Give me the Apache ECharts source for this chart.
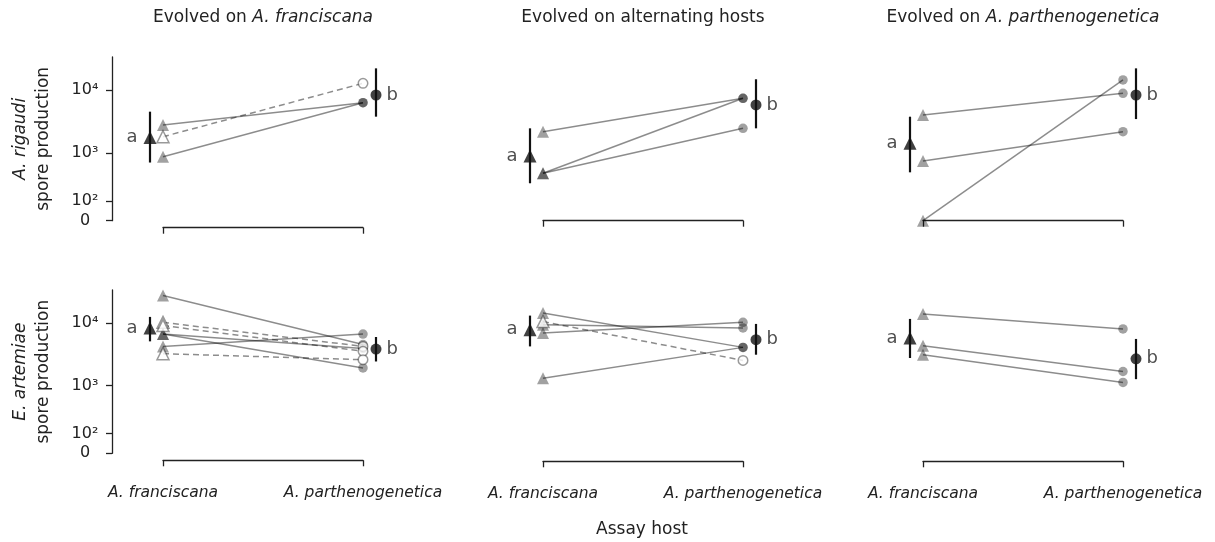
<!DOCTYPE html>
<html>
<head>
<meta charset="utf-8">
<script src="https://cdn.jsdelivr.net/npm/echarts@6/dist/echarts.min.js"></script>
<style>
  html, body { margin: 0; padding: 0; background: #fff; }
  #chart { width: 1215px; height: 542px; }
</style>
</head>
<body>
<div id="chart"></div>
<script>
// --- data ---
const hosts = ["A. franciscana", "A. parthenogenetica"];
const parasites = ["A. rigaudi", "E. artemiae"];
const titlePlain = ["Evolved on ", "Evolved on alternating hosts", "Evolved on "];
const titleItalic = ["A. franciscana", "", "A. parthenogenetica"];
const yTickValues = [0, 100, 1000, 10000];
const yTickLabels = ["0", "10\u00B2", "10\u00B3", "10\u2074"];
const yTop = 32300;
const meanLetters = ["a", "b"];

// A. rigaudi, evolved on A. franciscana
const rigFranFr = [2840, 860, 1840];
const rigFranPa = [6350, 6350, 12700];
const rigFranOpen = [false, false, true];
const rigFranMean = [1780, 8370];
const rigFranLow = [680, 3840];
const rigFranHigh = [4600, 21600];

// A. rigaudi, evolved on alternating hosts
const rigAltFr = [2220, 433, 433];
const rigAltPa = [7430, 7430, 2510];
const rigAltOpen = [false, false, false];
const rigAltMean = [880, 5860];
const rigAltLow = [275, 2510];
const rigAltHigh = [2510, 14660];

// A. rigaudi, evolved on A. parthenogenetica
const rigPartFr = [4080, 724, 0];
const rigPartPa = [8900, 2220, 14290];
const rigPartOpen = [false, false, false];
const rigPartMean = [1440, 8370];
const rigPartLow = [452, 3520];
const rigPartHigh = [3836, 21600];

// E. artemiae, evolved on A. franciscana
const artFranFr = [26500, 6700, 6700, 4300, 10200, 9100, 3300];
const artFranPa = [4600, 1950, 4000, 6700, 4300, 3600, 2650];
const artFranOpen = [false, false, false, false, true, true, true];
const artFranMean = [8350, 3910];
const artFranLow = [5160, 2480];
const artFranHigh = [12400, 6040];

// E. artemiae, evolved on alternating hosts
const artAltFr = [14300, 1330, 9400, 6980, 10490];
const artAltPa = [4150, 4150, 8350, 10220, 2580];
const artAltOpen = [false, false, false, false, true];
const artAltMean = [7860, 5490];
const artAltLow = [4300, 3180];
const artAltHigh = [12990, 9650];

// E. artemiae, evolved on A. parthenogenetica
const artPartFr = [13800, 4410, 3180];
const artPartPa = [8070, 1710, 1130];
const artPartOpen = [false, false, false];
const artPartMean = [5830, 2740];
const artPartLow = [2820, 1280];
const artPartHigh = [11540, 5630];

const panels = [
  { fr: rigFranFr, pa: rigFranPa, open: rigFranOpen, mean: rigFranMean, low: rigFranLow, high: rigFranHigh },
  { fr: rigAltFr, pa: rigAltPa, open: rigAltOpen, mean: rigAltMean, low: rigAltLow, high: rigAltHigh },
  { fr: rigPartFr, pa: rigPartPa, open: rigPartOpen, mean: rigPartMean, low: rigPartLow, high: rigPartHigh },
  { fr: artFranFr, pa: artFranPa, open: artFranOpen, mean: artFranMean, low: artFranLow, high: artFranHigh },
  { fr: artAltFr, pa: artAltPa, open: artAltOpen, mean: artAltMean, low: artAltLow, high: artAltHigh },
  { fr: artPartFr, pa: artPartPa, open: artPartOpen, mean: artPartMean, low: artPartLow, high: artPartHigh },
];

// --- layout ---
const FONT = "DejaVu Sans";
const TEXT = "#222";
const DOT = "rgba(0,0,0,0.46)";
const LINE = "rgba(0,0,0,0.45)";
const colLeft = [163, 543, 923];
const plotW = 200;
const rowTop = [57, 290];
const plotH = [163.7, 163.3];
const bracketOffset = [[7, 0, 0], [7, 8, 8]];
const meanShift = 0.065;

// pseudo-log scale used by the figure: log10(x + 100)
const T = (v) => Math.log10(v + 100);

const grids = [], xAxes = [], yAxes = [], series = [];

panels.forEach((pn, p) => {
  const row = Math.floor(p / 3), col = p % 3;
  grids.push({ left: colLeft[col], top: rowTop[row], width: plotW, height: plotH[row] });

  xAxes.push({
    gridIndex: p, type: "value", min: 0, max: 1, interval: 1,
    offset: bracketOffset[row][col],
    axisLine: { onZero: false, lineStyle: { color: TEXT, width: 1.3 } },
    axisTick: { length: 6, lineStyle: { color: TEXT, width: 1.3 } },
    splitLine: { show: false },
    axisLabel: row === 1 ? {
      formatter: (v) => hosts[v] || "",
      showMinLabel: true, showMaxLabel: true,
      fontFamily: FONT, fontSize: 15.5, fontStyle: "italic", color: TEXT, margin: 25,
    } : { show: false },
  });

  const tickPos = yTickValues.map(T);
  yAxes.push({
    gridIndex: p, type: "value", min: T(0), max: T(yTop),
    show: col === 0, position: "left", offset: 51,
    axisLine: { show: true, onZero: false, lineStyle: { color: TEXT, width: 1.3 } },
    axisTick: { show: true, length: 6, customValues: tickPos, lineStyle: { color: TEXT, width: 1.3 } },
    axisLabel: {
      customValues: tickPos,
      formatter: (v) => {
        const i = tickPos.findIndex((t) => Math.abs(t - v) < 1e-6);
        return i >= 0 ? yTickLabels[i] : "";
      },
      align: "center", margin: 27, fontFamily: FONT, fontSize: 16, color: TEXT,
    },
    splitLine: { show: false },
    name: "{i|" + parasites[row] + "}\n{n|spore production}",
    nameLocation: "middle", nameGap: 57, nameRotate: 90, nameMoveOverlap: false,
    nameTextStyle: {
      fontFamily: FONT, fontSize: 17, color: TEXT, lineHeight: 23,
      rich: {
        i: { fontStyle: "italic", fontFamily: FONT, fontSize: 17, color: TEXT, lineHeight: 23 },
        n: { fontFamily: FONT, fontSize: 17, color: TEXT, lineHeight: 23 },
      },
    },
  });

  // connecting lines per replicate
  pn.fr.forEach((v, i) => {
    series.push({
      type: "line", xAxisIndex: p, yAxisIndex: p, clip: false, silent: true, z: 2,
      symbol: "none",
      data: [[0, T(v)], [1, T(pn.pa[i])]],
      lineStyle: { color: LINE, width: 1.5, type: pn.open[i] ? [6, 4] : "solid" },
    });
  });

  // replicate markers
  const pts = [];
  pn.fr.forEach((v, i) => {
    const st = pn.open[i]
      ? { color: "#fff", borderColor: "rgba(0,0,0,0.5)", borderWidth: 1.5 }
      : { color: DOT, borderWidth: 0 };
    pts.push({ value: [0, T(v)], symbol: "triangle", symbolSize: 12, itemStyle: st });
    pts.push({ value: [1, T(pn.pa[i])], symbol: "circle", symbolSize: 9.5, itemStyle: st });
  });
  series.push({
    type: "scatter", xAxisIndex: p, yAxisIndex: p, clip: false, silent: true, z: 3,
    data: pts,
  });

  // error bars of the means
  series.push({
    type: "custom", xAxisIndex: p, yAxisIndex: p, clip: false, silent: true, z: 4,
    data: [
      [-meanShift, T(pn.low[0]), T(pn.high[0])],
      [1 + meanShift, T(pn.low[1]), T(pn.high[1])],
    ],
    renderItem: (params, api) => {
      const a = api.coord([api.value(0), api.value(1)]);
      const b = api.coord([api.value(0), api.value(2)]);
      return {
        type: "line",
        shape: { x1: a[0], y1: a[1], x2: b[0], y2: b[1] },
        style: { stroke: "#111", lineWidth: 2.2 },
      };
    },
  });

  // means with group letters
  series.push({
    type: "scatter", xAxisIndex: p, yAxisIndex: p, clip: false, silent: true, z: 5,
    itemStyle: { color: "#111" },
    data: [
      {
        value: [-meanShift, T(pn.mean[0])], symbol: "triangle", symbolSize: 13,
        label: { show: true, formatter: meanLetters[0], position: "left", distance: 6 },
      },
      {
        value: [1 + meanShift, T(pn.mean[1])], symbol: "circle", symbolSize: 11,
        label: { show: true, formatter: meanLetters[1], position: "right", distance: 5 },
      },
    ],
    label: { fontFamily: FONT, fontSize: 18, color: TEXT },
  });
});

const graphics = titlePlain.map((t, c) => ({
  type: "text",
  x: colLeft[c] + plotW / 2, y: 18,
  style: {
    text: "{n|" + t + "}" + (titleItalic[c] ? "{i|" + titleItalic[c] + "}" : ""),
    align: "center", verticalAlign: "middle",
    rich: {
      n: { fontFamily: FONT, fontSize: 17, fill: TEXT },
      i: { fontFamily: FONT, fontSize: 17, fontStyle: "italic", fill: TEXT },
    },
  },
}));
graphics.push({
  type: "text", x: 642, y: 530,
  style: { text: "Assay host", align: "center", verticalAlign: "middle",
           fontFamily: FONT, fontSize: 17, fill: TEXT },
});

const chart = echarts.init(document.getElementById("chart"), null, { renderer: "canvas" });
chart.setOption({
  animation: false,
  backgroundColor: "#fff",
  grid: grids,
  xAxis: xAxes,
  yAxis: yAxes,
  series: series,
  graphic: graphics,
});
</script>
</body>
</html>
